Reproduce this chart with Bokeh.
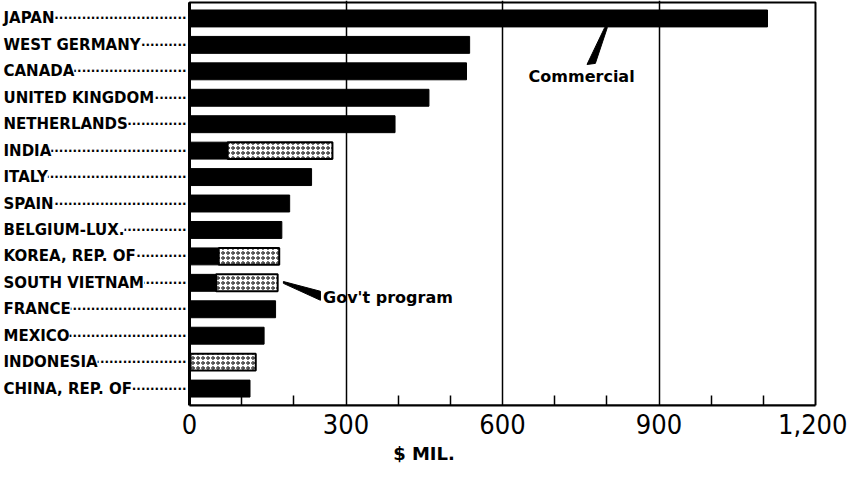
from bokeh.plotting import figure
from bokeh.models import Range1d, FixedTicker, NumeralTickFormatter, ColumnDataSource
from bokeh.core.properties import value
from bokeh.embed import file_html
from bokeh.resources import INLINE

# ---- data (values in $ million) ----
countries = ["JAPAN", "WEST GERMANY", "CANADA", "UNITED KINGDOM", "NETHERLANDS",
             "INDIA", "ITALY", "SPAIN", "BELGIUM-LUX.", "KOREA, REP. OF",
             "SOUTH VIETNAM", "FRANCE", "MEXICO", "INDONESIA", "CHINA, REP. OF"]
commercial = [1108, 537, 531, 459, 394, 73, 234, 192, 177, 56, 51, 165, 143, 2, 116]
govt_program = [0, 0, 0, 0, 0, 201, 0, 0, 0, 116, 118, 0, 0, 125, 0]
x_ticks = [0, 300, 600, 900, 1200]
x_minor_ticks = [100, 200, 400, 500, 700, 800, 1000, 1100]
grid_ticks = [300, 600, 900]

X_MAX = 1200
LABEL_FONT = "DejaVu Sans"
NAME_SIZE = 15
DOT_SIZE = 12
W, H = 847, 466
BOTTOM = 60
# horizontal layout: value 0 at pixel 189, value 1200 at pixel 815
PX0, PX1 = 189, 815
PPU = (PX1 - PX0) / X_MAX
x_start = -PX0 / PPU
x_end = X_MAX + (W - PX1) / PPU
# vertical layout: first row centre at pixel 18
FRAME_H = H - BOTTOM
ROW0_PX = 18
Y_BOT = 14.64
ppr = (FRAME_H - ROW0_PX) / Y_BOT
y_top = -ROW0_PX / ppr
BOX_TOP = -0.6

# approximate DejaVu Sans Bold advance widths (em) to size the dotted leaders
EM = {" ": .348, "A": .774, "B": .762, "C": .734, "D": .830, "E": .683, "F": .683,
      "G": .821, "H": .837, "I": .372, "J": .372, "K": .775, "L": .637, "M": .995,
      "N": .837, "O": .850, "P": .733, "R": .770, "S": .720, "T": .682, "U": .812,
      "V": .774, "W": 1.099, "X": .771, "Y": .724, ",": .380, ".": .380, "-": .415}
NAME_X_PX = 3
DOT_ADV = 0.380 * DOT_SIZE


def leader(name):
    w = sum(EM.get(c, .75) for c in name) * NAME_SIZE
    avail = (PX0 - 3) - (NAME_X_PX + w + 2)
    return "\u00b7" * max(1, int(avail // DOT_ADV) + 2)


idx = list(range(len(countries)))
src_c = ColumnDataSource(dict(y=idx, left=[0] * len(idx), right=commercial))
g_rows = [i for i in idx if govt_program[i] > 0]
src_g = ColumnDataSource(dict(y=g_rows,
                              left=[commercial[i] for i in g_rows],
                              right=[commercial[i] + govt_program[i] for i in g_rows]))
src_lab = ColumnDataSource(dict(y=idx, name=countries, dots=[leader(n) for n in countries]))

p = figure(width=W, height=H,
           x_range=Range1d(x_start, x_end), y_range=Range1d(Y_BOT, y_top),
           output_backend="svg", toolbar_location=None, y_axis_location=None,
           min_border_left=0, min_border_right=0,
           min_border_top=0, min_border_bottom=BOTTOM)

p.outline_line_color = None
p.background_fill_color = "white"

# x axis
xa = p.xaxis[0]
xa.bounds = (0, X_MAX)
xa.ticker = FixedTicker(ticks=x_ticks, minor_ticks=x_minor_ticks)
xa.formatter = NumeralTickFormatter(format="0,0")
xa.major_tick_in = 0
xa.major_tick_out = 0
xa.minor_tick_in = 10
xa.minor_tick_out = 0
xa.minor_tick_line_color = "black"
xa.minor_tick_line_width = 1.5
xa.axis_line_color = "black"
xa.axis_line_width = 2
xa.major_label_text_font = "'Liberation Sans Narrow', 'DejaVu Sans Condensed', sans-serif"
xa.major_label_text_font_size = "27px"
xa.major_label_text_color = "black"
xa.major_label_standoff = 8
xa.axis_label = "$ MIL."
xa.axis_label_text_font = LABEL_FONT
xa.axis_label_text_font_style = "bold"
xa.axis_label_text_font_size = "18px"
xa.axis_label_text_color = "black"
xa.axis_label_standoff = 6

p.ygrid.visible = False
p.xgrid.ticker = FixedTicker(ticks=grid_ticks)
p.xgrid.grid_line_color = "black"
p.xgrid.grid_line_width = 1.5

# plot box (top / right border) and thick value axis at 0
p.quad(left=[0], right=[X_MAX], top=[BOX_TOP], bottom=[Y_BOT],
       fill_color=None, line_color="black", line_width=2)
p.segment(x0=[0], y0=[BOX_TOP], x1=[0], y1=[Y_BOT], line_color="black", line_width=3)

# bars
BAR_H = 0.64
p.hbar(y="y", left="left", right="right", height=BAR_H, source=src_c,
       fill_color="black", line_color="black")
p.hbar(y="y", left="left", right="right", height=BAR_H, source=src_g,
       fill_color="white", line_color="black", line_width=2,
       hatch_pattern="ring", hatch_color="black", hatch_scale=5, hatch_weight=1)

# category labels with dotted leaders
p.text(x=-3 / PPU, y="y", text="dots", source=src_lab,
       text_align="right", text_baseline="middle",
       text_font=value(LABEL_FONT), text_font_style="bold",
       text_font_size=f"{DOT_SIZE}px", text_color="black")
p.text(x=x_start + NAME_X_PX / PPU, y="y", text="name", source=src_lab,
       text_align="left", text_baseline="middle",
       text_font=value(LABEL_FONT), text_font_style="bold",
       text_font_size=f"{NAME_SIZE}px", text_color="black",
       background_fill_color="white")

# callouts
p.patch([801, 796, 762, 778], [0.34, 0.34, 1.74, 1.70], color="black")
p.text(x=[650], y=[2.2], text=["Commercial"], text_align="left",
       text_baseline="middle", text_font=value(LABEL_FONT),
       text_font_style="bold", text_font_size="16px", text_color="black")
p.patch([180, 180, 251, 251], [9.95, 10.02, 10.66, 10.32], color="black")
p.text(x=[256], y=[10.55], text=["Gov't program"], text_align="left",
       text_baseline="middle", text_font=value(LABEL_FONT),
       text_font_style="bold", text_font_size="16px", text_color="black")

open("out.html", "w").write(file_html(p, INLINE))
